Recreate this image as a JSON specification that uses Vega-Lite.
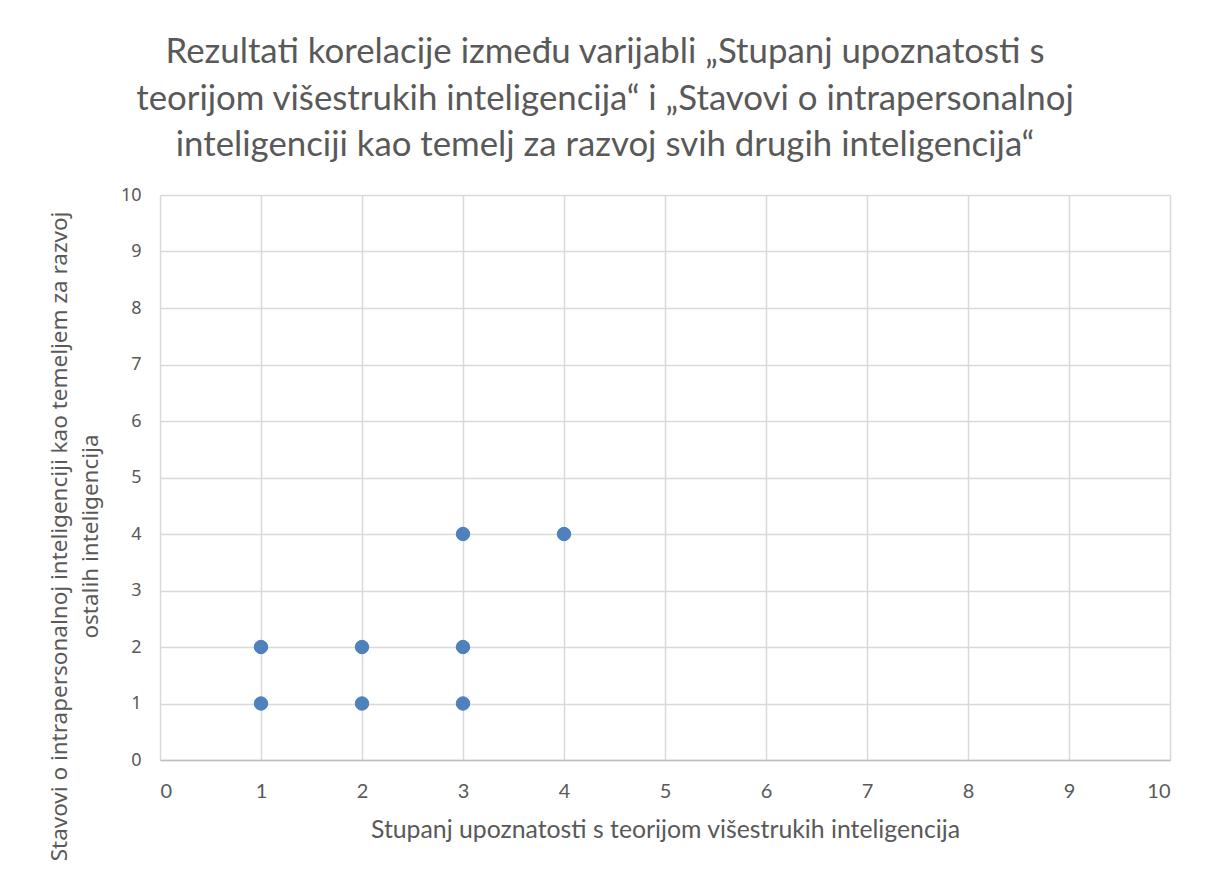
{
  "$schema": "https://vega.github.io/schema/vega-lite/v6.json",
  "width": 1010,
  "height": 565,
  "autosize": {"type": "none"},
  "padding": {"left": 160, "top": 195, "right": 36, "bottom": 112},
  "background": "white",
  "title": {
    "text": ["Rezultati korelacije između varijabli „Stupanj upoznatosti s", "teorijom višestrukih inteligencija“ i „Stavovi o intrapersonalnoj", "inteligenciji kao temelj za razvoj svih drugih inteligencija“"],
    "frame": "group",
    "anchor": "middle",
    "dx": -60,
    "offset": 22,
    "font": "Lato",
    "fontSize": 34.8,
    "fontWeight": "normal",
    "lineHeight": 46.5,
    "color": "#595959"
  },
  "data": {
    "values": [
      {"x": 1, "y": 1}, {"x": 1, "y": 2},
      {"x": 2, "y": 1}, {"x": 2, "y": 2},
      {"x": 3, "y": 1}, {"x": 3, "y": 2}, {"x": 3, "y": 4},
      {"x": 4, "y": 4}
    ]
  },
  "mark": {"type": "circle", "size": 180, "opacity": 1, "color": "#4f81bd", "stroke": "#4a7ebb", "strokeWidth": 1},
  "encoding": {
    "x": {
      "field": "x", "type": "quantitative",
      "scale": {"domain": [0, 10], "nice": false, "zero": true},
      "axis": {
        "title": "Stupanj upoznatosti s teorijom višestrukih inteligencija",
        "values": [0,1,2,3,4,5,6,7,8,9,10],
        "grid": true, "gridColor": "#d9d9d9", "gridWidth": 1.5,
        "domain": true, "domainColor": "#bfbfbf", "domainWidth": 1.5,
        "ticks": false,
        "labelFont": "Lato", "labelFontSize": 20, "labelColor": "#595959", "labelPadding": 21,
        "titleFont": "Lato", "titleFontSize": 24.8, "titleFontWeight": "normal", "titleColor": "#595959", "titlePadding": 16
      }
    },
    "y": {
      "field": "y", "type": "quantitative",
      "scale": {"domain": [0, 10], "nice": false, "zero": true},
      "axis": {
        "title": ["Stavovi o intrapersonalnoj inteligenciji kao temeljem za razvoj", "ostalih inteligencija"],
        "values": [0,1,2,3,4,5,6,7,8,9,10],
        "grid": true, "gridColor": "#d9d9d9", "gridWidth": 1.5,
        "domain": false, "ticks": false,
        "labelFont": "Noto Sans", "labelFontSize": 18, "labelColor": "#595959", "labelPadding": 19,
        "titleFont": "Noto Sans", "titleFontSize": 22.5, "titleFontWeight": "normal", "titleColor": "#595959",
        "titleAngle": -90, "titleAlign": "center", "titleBaseline": "alphabetic",
        "titleX": -94, "titleY": 341, "titleLineHeight": 31
      }
    }
  },
  "config": {"view": {"stroke": null}}
}
